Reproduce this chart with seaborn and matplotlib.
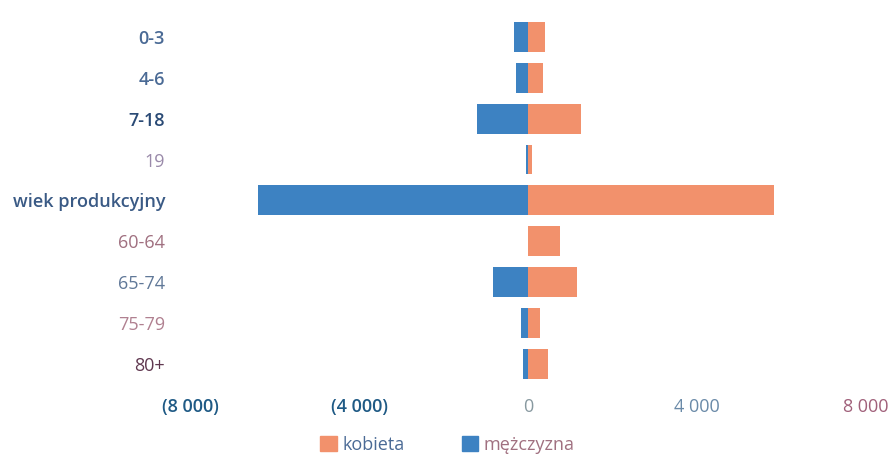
import pandas as pd
import numpy as np
import matplotlib
matplotlib.use("Agg")
import matplotlib.pyplot as plt
from matplotlib.patches import Patch
import seaborn as sns

# age groups (top to bottom)
groups = ["0-3", "4-6", "7-18", "19", "wiek produkcyjny", "60-64", "65-74", "75-79", "80+"]
# values
kobieta = [400, 355, 1250, 100, 5830, 760, 1160, 290, 470]
mezczyzna = [330, 285, 1210, 60, 6400, 0, 830, 170, 120]

tick_vals = [-8000, -4000, 0, 4000, 8000]
tick_text = ["(8 000)", "(4 000)", "0", "4 000", "8 000"]

# label colours as they appear in the reference
group_colors = ["#4a6a95", "#4a6a95", "#2a4a75", "#9a8aaa", "#3a5a85",
                "#a07080", "#607898", "#b08090", "#603850"]
group_weights = ["semibold", "semibold", "semibold", "normal", "semibold",
                 "normal", "normal", "normal", "normal"]
tick_colors = ["#1f5a85", "#1f5a85", "#8899a0", "#6a8aa8", "#a0607a"]
tick_weights = ["semibold", "semibold", "normal", "normal", "normal"]

blue = "#3d82c2"
orange = "#f2916c"

sns.set_style("white")
plt.rcParams["font.family"] = ["Open Sans", "DejaVu Sans"]

df = pd.DataFrame({
    "grupa": groups * 2,
    "liczba": kobieta + [-v for v in mezczyzna],
    "plec": ["kobieta"] * len(groups) + ["mężczyzna"] * len(groups),
})

fig = plt.figure(figsize=(8.90, 4.57), dpi=100)
ax = fig.add_axes([0.2135, 0.159, 0.7596, 0.805])

sns.barplot(data=df, x="liczba", y="grupa", hue="plec", order=groups,
            hue_order=["kobieta", "mężczyzna"], palette=[orange, blue],
            dodge=False, orient="h", width=0.73, legend=False, ax=ax,
            saturation=1, linewidth=0)

ax.set_xlim(-8000, 8000)
ax.set_ylim(len(groups) - 0.5, -0.5)
ax.set_xlabel("")
ax.set_ylabel("")
sns.despine(ax=ax, left=True, bottom=True)

ax.set_xticks(tick_vals)
ax.set_xticklabels(tick_text, fontsize=13)
for lbl, c, w in zip(ax.get_xticklabels(), tick_colors, tick_weights):
    lbl.set_color(c)
    lbl.set_fontweight(w)
ax.tick_params(axis="x", length=0, pad=10)

ax.set_yticks(range(len(groups)))
ax.set_yticklabels(groups, fontsize=13)
for lbl, c, w in zip(ax.get_yticklabels(), group_colors, group_weights):
    lbl.set_color(c)
    lbl.set_fontweight(w)
ax.tick_params(axis="y", length=0, pad=18)

handles = [Patch(color=orange, label="kobieta"), Patch(color=blue, label="mężczyzna")]
leg = fig.legend(handles=handles, loc="center", bbox_to_anchor=(0.503, 0.027),
                 ncol=2, frameon=False, fontsize=13, handlelength=0.9,
                 handleheight=0.9, handletextpad=0.3, columnspacing=3.2)
for t, c in zip(leg.get_texts(), ["#4a6a95", "#a07080"]):
    t.set_color(c)

fig.savefig("out.png", dpi=100)
